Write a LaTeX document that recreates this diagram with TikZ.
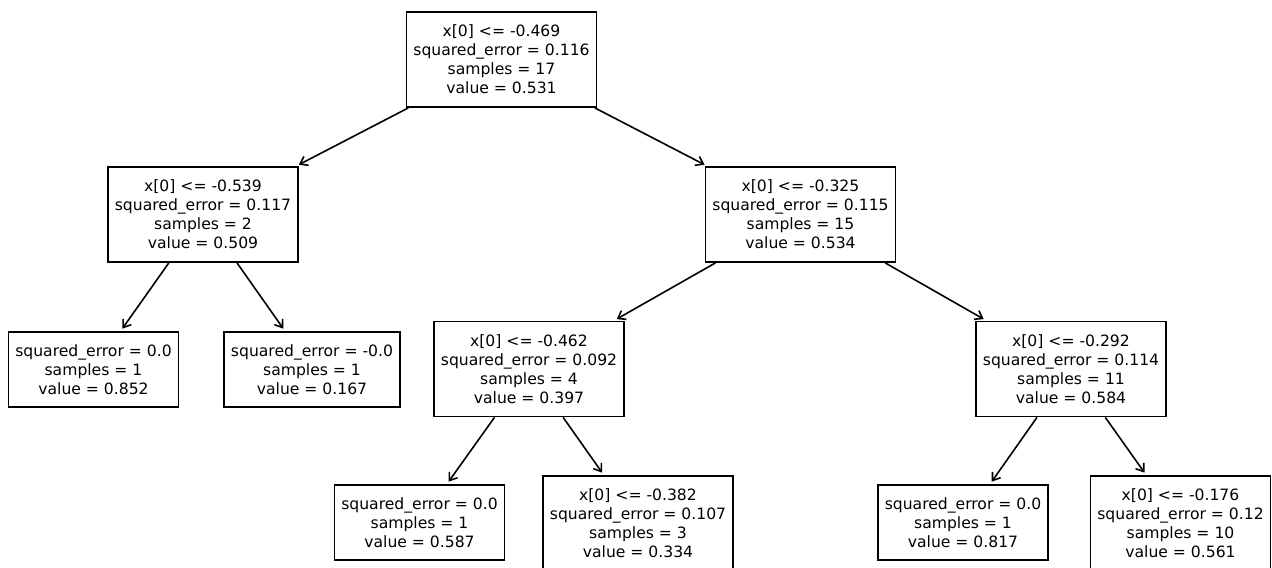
\documentclass[tikz,border=0pt]{standalone}
\usepackage{fontspec}
\setmainfont{DejaVu Sans}
\usepackage{tikz}
\usetikzlibrary{arrows.meta}

\begin{document}
\begin{tikzpicture}[
  x=0.5pt, y=-0.5pt,
  tbox/.style={draw=black, fill=white, line width=0.9pt, align=center, inner xsep=3.4pt, inner ysep=0pt,
    font=\fontsize{7.8}{9.5}\selectfont},
  split/.style={tbox, minimum height=47.5pt},
  leaf/.style={tbox, minimum height=37.5pt},
  edge/.style={-{Straight Barb[length=3.5pt,width=5pt]}, line width=0.8pt, shorten >=1.5pt}
]
  \useasboundingbox[fill=white] (0,0) rectangle (1272,567);
  % level 0
  \node[split] (root) at (501.5, 59.5) {x[0] <= -0.469\\squared\_error = 0.116\\samples = 17\\value = 0.531};
  % level 1
  \node[split] (nL) at (203, 214.5) {x[0] <= -0.539\\squared\_error = 0.117\\samples = 2\\value = 0.509};
  \node[split] (nR) at (800.5, 214.5) {x[0] <= -0.325\\squared\_error = 0.115\\samples = 15\\value = 0.534};
  % level 2
  \node[leaf] (nLL) at (93.5, 369.5) {squared\_error = 0.0\\samples = 1\\value = 0.852};
  \node[leaf] (nLR) at (312, 369.5) {squared\_error = -0.0\\samples = 1\\value = 0.167};
  \node[split] (nRL) at (529, 369) {x[0] <= -0.462\\squared\_error = 0.092\\samples = 4\\value = 0.397};
  \node[split] (nRR) at (1071, 369) {x[0] <= -0.292\\squared\_error = 0.114\\samples = 11\\value = 0.584};
  % level 3 (cut off at the bottom)
  \node[leaf] (nRLL) at (419.5, 522.5) {squared\_error = 0.0\\samples = 1\\value = 0.587};
  \node[split] (nRLR) at (638, 523.5) {x[0] <= -0.382\\squared\_error = 0.107\\samples = 3\\value = 0.334};
  \node[leaf] (nRRL) at (963, 522.5) {squared\_error = 0.0\\samples = 1\\value = 0.817};
  \node[split] (nRRR) at (1180.5, 523.5) {x[0] <= -0.176\\squared\_error = 0.12\\samples = 10\\value = 0.561};

  \draw[edge] (root) -- (nL);
  \draw[edge] (root) -- (nR);
  \draw[edge] (nL) -- (nLL);
  \draw[edge] (nL) -- (nLR);
  \draw[edge] (nR) -- (nRL);
  \draw[edge] (nR) -- (nRR);
  \draw[edge] (nRL) -- (nRLL);
  \draw[edge] (nRL) -- (nRLR);
  \draw[edge] (nRR) -- (nRRL);
  \draw[edge] (nRR) -- (nRRR);
\end{tikzpicture}
\end{document}
